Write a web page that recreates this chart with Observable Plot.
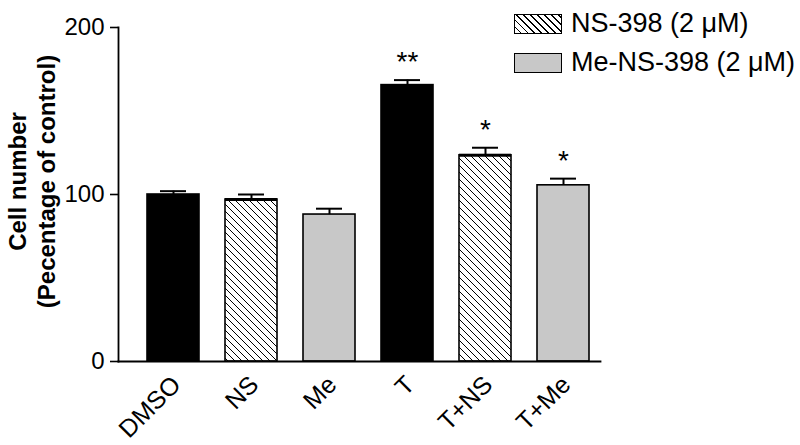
<!DOCTYPE html>
<html>
<head>
<meta charset="utf-8">
<script src="https://cdn.jsdelivr.net/npm/d3@7"></script>
<script src="https://cdn.jsdelivr.net/npm/@observablehq/plot@0.6"></script>
<style>
  body { margin: 0; background: #fff; font-family: "Liberation Sans", Arial, sans-serif; }
  #wrap { position: relative; width: 800px; height: 445px; }
  .leg { position: absolute; left: 514px; display: flex; align-items: center; font-size: 27px; color: #000; white-space: nowrap; }
  .sw { width: 46px; height: 18px; border: 1.5px solid #000; margin-right: 9px; box-sizing: content-box; }
</style>
</head>
<body>
<div id="wrap"></div>
<script>
const categories = ["DMSO", "NS", "Me", "T", "T+NS", "T+Me"];
const values = [100, 97, 88, 165.5, 123.5, 105.5];
const errors = [2, 3, 3.5, 3, 4.5, 4];
const significance = ["", "", "", "**", "*", "*"];
const treatment = ["vehicle", "NS-398", "Me-NS-398", "vehicle", "NS-398", "Me-NS-398"];
const legendLabels = ["NS-398 (2 \u03bcM)", "Me-NS-398 (2 \u03bcM)"];
const yTicks = [0, 100, 200];

const data = categories.map((c, i) => ({
  cat: c, value: values[i], err: errors[i], sig: significance[i], group: treatment[i]
}));

const fills = {"vehicle": "#000000", "NS-398": "url(#hatch)", "Me-NS-398": "#c8c8c8"};

const plot = Plot.plot({
  width: 800,
  height: 445,
  marginLeft: 118,
  marginRight: 200,
  marginTop: 27,
  marginBottom: 84,
  style: {fontFamily: "'Liberation Sans', Arial, sans-serif", background: "#fff", color: "#000"},
  x: {domain: categories, paddingInner: 0.327, paddingOuter: 0, insetLeft: 27, insetRight: 8.5, axis: null},
  y: {domain: [0, 200], axis: null},
  marks: [
    Plot.barY(data, {x: "cat", y: "value", fill: d => fills[d.group], stroke: "#000", strokeWidth: 1.6}),
    Plot.tickY(data.filter(d => d.group === "NS-398"), {x: "cat", y: "value", stroke: "#000", strokeWidth: 3}),
    Plot.ruleX(data, {x: "cat", y1: "value", y2: d => d.value + d.err, stroke: "#000", strokeWidth: 2}),
    Plot.tickY(data, {x: "cat", y: d => d.value + d.err, stroke: "#000", strokeWidth: 2, insetLeft: 13, insetRight: 13}),
    Plot.text(data, {x: "cat", y: d => d.value + d.err, text: "sig", fontSize: 28, lineAnchor: "bottom", dy: -9, fill: "#000"}),
    Plot.axisY({ticks: yTicks, tickSize: 8, tickPadding: 6, fontSize: 24, strokeWidth: 1.6, tickFormat: d => String(d), label: null}),
    Plot.frame({anchor: "left", strokeWidth: 1.8}),
    Plot.frame({anchor: "bottom", strokeWidth: 1.8}),
    Plot.text(categories, {x: d => d, frameAnchor: "bottom", rotate: -45, textAnchor: "end", lineAnchor: "middle", fontSize: 25, dx: 3, dy: 19, fill: "#000"}),
    Plot.text(["Cell number\n(Pecentage of control)"], {frameAnchor: "left", rotate: -90, dx: -87, dy: -13, fontSize: 24, fontWeight: "bold", lineHeight: 1.2, textAnchor: "middle", fill: "#000"})
  ]
});

const svg = d3.select(plot);
const defs = svg.insert("defs", ":first-child");
const pat = defs.append("pattern").attr("id", "hatch").attr("patternUnits", "userSpaceOnUse")
  .attr("width", 7).attr("height", 7);
pat.append("rect").attr("width", 7).attr("height", 7).attr("fill", "#fff");
pat.append("path").attr("d", "M0,0L7,7M-1,6L1,8M6,-1L8,1").attr("stroke", "#000").attr("stroke-width", 1);

const wrap = document.getElementById("wrap");
wrap.appendChild(plot);

const swatchStyles = [
  "background: repeating-linear-gradient(45deg, #fff 0px, #fff 3.6px, #000 3.6px, #000 4.9px);",
  "background: #c8c8c8;"
];
const tops = [8, 47];
legendLabels.forEach((lab, i) => {
  const row = document.createElement("div");
  row.className = "leg";
  row.style.top = tops[i] + "px";
  const sw = document.createElement("div");
  sw.className = "sw";
  sw.setAttribute("style", swatchStyles[i]);
  row.appendChild(sw);
  const t = document.createElement("span");
  t.textContent = lab;
  row.appendChild(t);
  wrap.appendChild(row);
});
</script>
</body>
</html>
